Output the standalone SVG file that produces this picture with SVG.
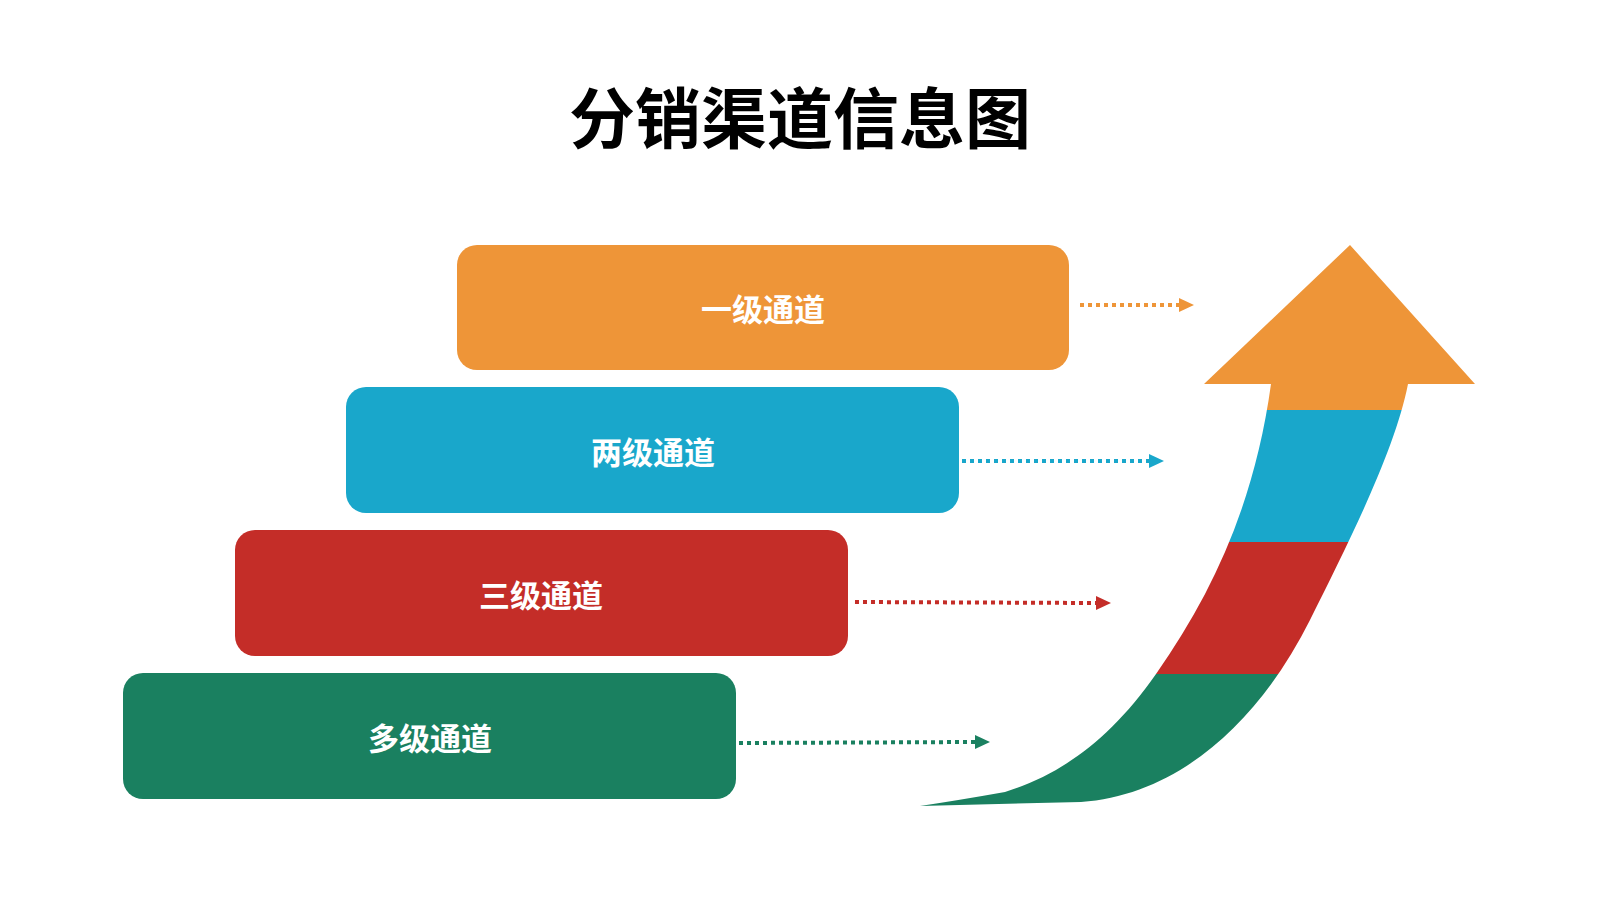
<svg xmlns="http://www.w3.org/2000/svg" width="1600" height="900" viewBox="0 0 1600 900">
<style>
.t{font-family:"Noto Sans CJK SC","Liberation Sans",sans-serif;font-weight:bold;text-anchor:middle;dominant-baseline:central}
.lbl{fill:#fff;font-size:31px}
.d{stroke-width:4;stroke-dasharray:4 4;fill:none}
</style>
<defs>
<linearGradient id="g" gradientUnits="userSpaceOnUse" x1="0" y1="245" x2="0" y2="806">
<stop offset="0.294" stop-color="#EE9538"/><stop offset="0.294" stop-color="#19A7CB"/>
<stop offset="0.529" stop-color="#19A7CB"/><stop offset="0.529" stop-color="#C42D28"/>
<stop offset="0.765" stop-color="#C42D28"/><stop offset="0.765" stop-color="#1A8060"/>
</linearGradient>
</defs>
<rect width="1600" height="900" fill="#fff"/>
<text class="t" x="800" y="114" font-size="66">分销渠道信息图</text>
<g id="n1"><rect x="457" y="245" width="612" height="125" rx="20" fill="#EE9538"/><text class="t lbl" x="763" y="307">一级通道</text></g>
<g id="n2"><rect x="346" y="387" width="613" height="126" rx="20" fill="#19A7CB"/><text class="t lbl" x="653" y="450">两级通道</text></g>
<g id="n3"><rect x="235" y="530" width="613" height="126" rx="20" fill="#C42D28"/><text class="t lbl" x="541" y="593">三级通道</text></g>
<g id="n4"><rect x="123" y="673" width="613" height="126" rx="20" fill="#1A8060"/><text class="t lbl" x="430" y="736">多级通道</text></g>
<g id="connectors">
<line class="d" x1="1080" y1="305" x2="1180" y2="305" stroke="#EE9538"/><polygon points="1179,298 1194,305 1179,312" fill="#EE9538"/>
<line class="d" x1="962" y1="461" x2="1150" y2="461" stroke="#19A7CB"/><polygon points="1149,454 1164,461 1149,468" fill="#19A7CB"/>
<line class="d" x1="855" y1="602" x2="1097" y2="603" stroke="#C42D28"/><polygon points="1096,596 1111,603 1096,610" fill="#C42D28"/>
<line class="d" x1="739" y1="743" x2="976" y2="742" stroke="#1A8060"/><polygon points="975,735 990,742 975,749" fill="#1A8060"/>
</g>
<g id="arrow">
<path fill="url(#g)" d="M1350,245 L1475,384 L1408,384 C1395,450 1350,540 1310,620 C1260,720 1180,795 1081,802 L920,806 Q960,800 1005,792 C1060,775 1110,740 1156,674 C1215,590 1255,500 1271,384 L1204,384 Z"/>
</g>
</svg>
